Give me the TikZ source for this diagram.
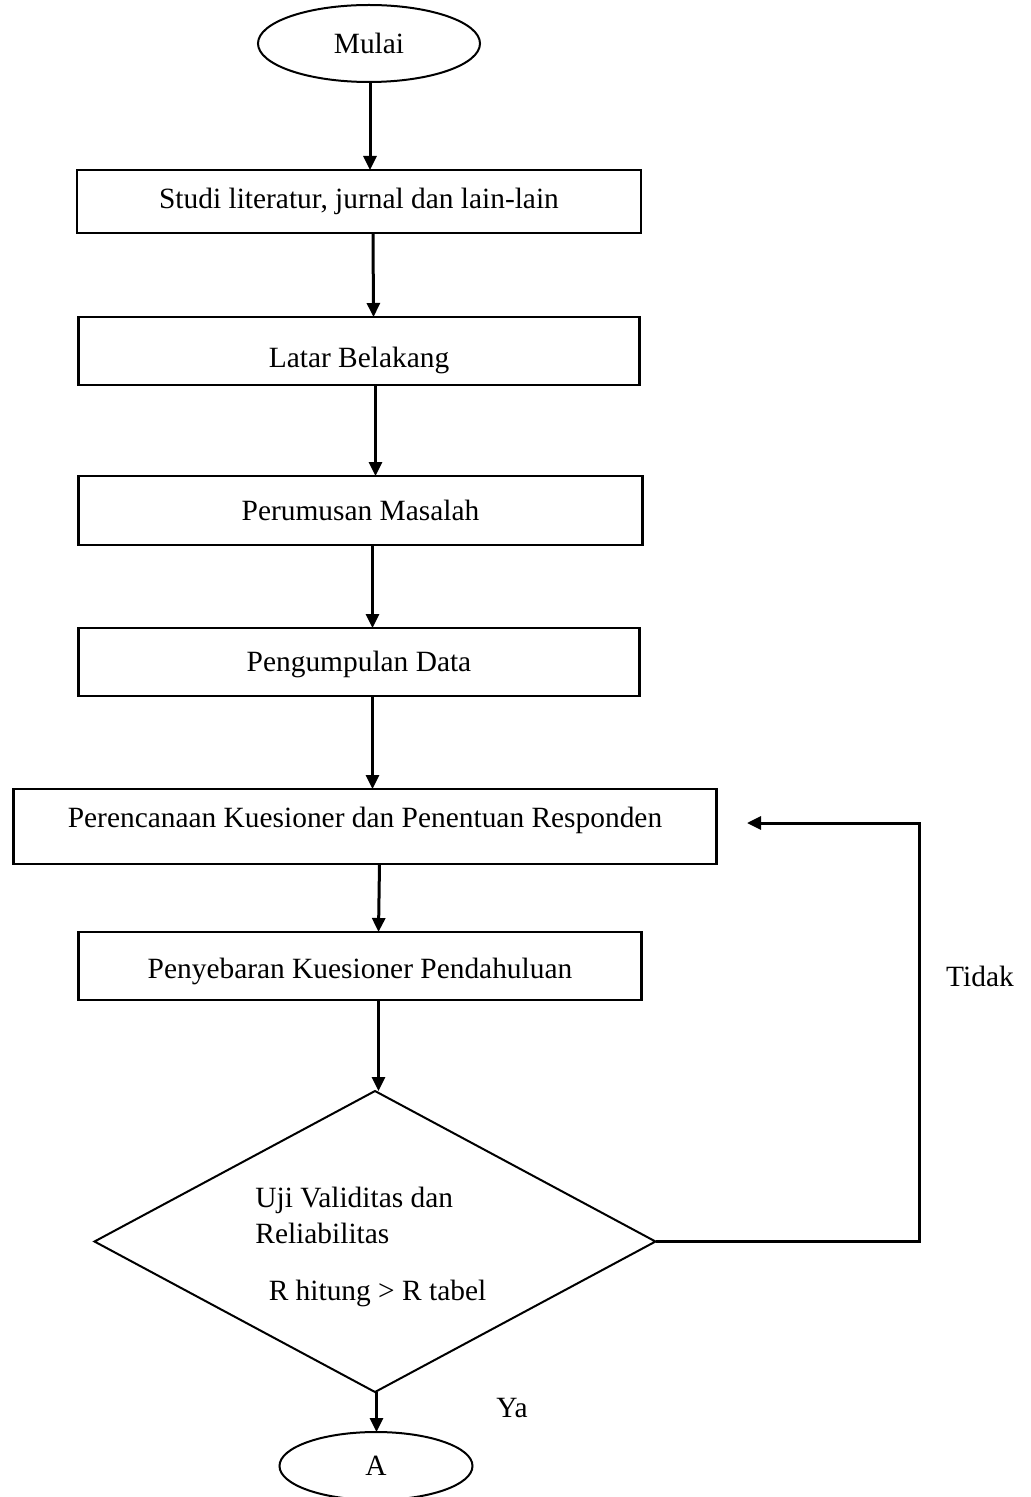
\documentclass[tikz,border=0pt]{standalone}
\usepackage{fontspec}
\setmainfont{Liberation Serif}
\usepackage{tikz}
\usetikzlibrary{positioning}
\usetikzlibrary{shapes.geometric}
\usetikzlibrary{arrows.meta}

\tikzset{
  stepbox/.style={draw, line width=1.2pt, minimum width=282pt, minimum height=34pt, inner sep=0pt, outer sep=0pt},
  terminal/.style={ellipse, draw, line width=1pt, inner sep=0pt, outer sep=0pt},
  decision/.style={diamond, draw, line width=1pt, minimum width=280.5pt, minimum height=150.5pt, inner sep=0pt, outer sep=0pt},
  flow/.style={line width=1.5pt, -{Triangle[length=7pt,width=6.5pt]}},
}

\begin{document}
\begin{tikzpicture}[x=0.5pt, y=-0.5pt, font=\fontsize{14.7}{18}\selectfont]
        \useasboundingbox (0,0) rectangle (1030,1497);

        \node[terminal, minimum width=111pt, minimum height=38.5pt] (Mulai) at (369,43.5) {Mulai};
        \node[stepbox, below=44pt of Mulai, xshift=-5pt, minimum height=31.5pt] (Studi) {Studi literatur, jurnal dan lain-lain};
        \node[stepbox, below=42pt of Studi, minimum width=280.5pt] (Latar) {\raisebox{-4.5pt}[\height][\depth]{Latar Belakang}};
        \node[stepbox, below=45.5pt of Latar, xshift=0.75pt, minimum height=34.5pt] (Rumus) {Perumusan Masalah};
        \node[stepbox, below=41.5pt of Rumus, xshift=-0.75pt, minimum width=280.5pt] (Kumpul) {\raisebox{-1pt}[\height][\depth]{Pengumpulan Data}};
        \node[stepbox, below=46.5pt of Kumpul, xshift=3pt, minimum width=351.5pt, minimum height=37.5pt] (Rencana) {\raisebox{3pt}[\height][\depth]{Perencanaan Kuesioner dan Penentuan Responden}};
        \node[stepbox, below=34pt of Rencana, xshift=-2.5pt, minimum width=281.5pt] (Sebar) {\raisebox{-2.5pt}[\height][\depth]{Penyebaran Kuesioner Pendahuluan}};
        \node[decision, below=45.5pt of Sebar, xshift=7.5pt] (Uji) {};
        \node[terminal, below=20pt of Uji, xshift=0.5pt, minimum width=96.5pt, minimum height=34pt] (A) {A};

        % text inside the decision
        \node[anchor=west, align=left, inner sep=0pt] (UjiTxt) at (255,1215) {Uji Validitas dan\\Reliabilitas};
        \node[inner sep=0pt] (UjiCond) at (377.5,1293) {R hitung > R tabel};

        % branch labels
        \node (Tidak) at (980,976) {Tidak};
        \node (Ya) at (512,1408) {Ya};

        % feedback corner points
        \coordinate (Balik) at (919,823);
        \coordinate (BalikEnd) at (747,823);

        % edges (main flow)
        \draw[flow] ([xshift=0.5pt]Mulai.south) -- ([xshift=0.5pt]Mulai.south |- Studi.north);
        \draw[flow] ([xshift=7pt]Studi.south) -- ([xshift=7.25pt]Latar.north);
        \draw[flow] ([xshift=8.25pt]Latar.south) -- ([xshift=7.5pt]Rumus.north);
        \draw[flow] ([xshift=6pt]Rumus.south) -- ([xshift=6.75pt]Kumpul.north);
        \draw[flow] ([xshift=6.75pt]Kumpul.south) -- ([xshift=3.75pt]Rencana.north);
        \draw[flow] ([xshift=7.25pt]Rencana.south) -- ([xshift=9.25pt]Sebar.north);
        \draw[flow] ([xshift=9.25pt]Sebar.south) -- ([xshift=1.75pt]Uji.north);
        \draw[flow] ([xshift=0.75pt]Uji.south) -- ([xshift=0.25pt]A.north);

        % edge back to the questionnaire step
        \draw[flow] (Uji.east) -| (Balik) -- (BalikEnd);
\end{tikzpicture}
\end{document}
